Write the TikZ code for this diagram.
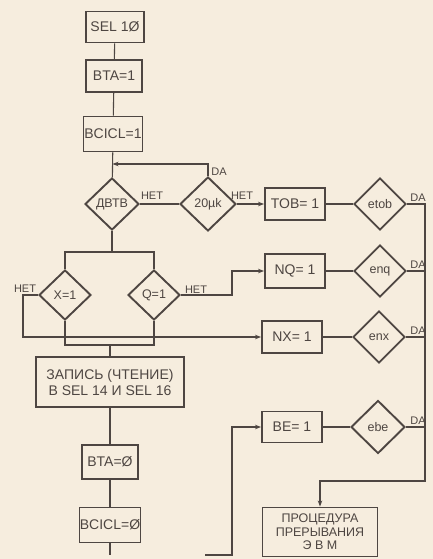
\documentclass[tikz,border=0pt]{standalone}
\usepackage{fontspec}
\setmainfont{Liberation Sans}
\usetikzlibrary{shapes.geometric,arrows.meta}
\definecolor{paper}{RGB}{246,237,222}
\definecolor{ink}{RGB}{78,70,66}
\begin{document}
\begin{tikzpicture}[x=1pt,y=-1pt,
  box/.style={draw=ink, line width=1.9pt, inner sep=0pt, text=ink, align=center,
    font=\fontsize{14}{16}\selectfont},
  dia/.style={diamond, draw=ink, line width=1.9pt, inner sep=0pt, text=ink,
    font=\fontsize{12.5}{14}\selectfont},
  conn/.style={draw=ink, line width=1.1pt},
  arr/.style={conn, -{Stealth[length=6pt,width=4.5pt]}},
  lbl/.style={text=ink, inner sep=0pt, font=\fontsize{11}{12}\selectfont}]
\fill[paper] (0,0) rectangle (433,559);
\useasboundingbox (0,0) rectangle (433,559);

% main column
\node[box, minimum width=58pt, minimum height=31pt] (sel) at (115,27) {SEL 1Ø};
\node[box, minimum width=56pt, minimum height=32pt] (bta1) at (114,76) {BTA=1};
\node[box, minimum width=59pt, minimum height=35pt] (bc1) at (113,134) {BCICL=1};
\node[dia, minimum width=54pt, minimum height=52pt] (dvtv) at (112,204) {ДВТВ};
\node[dia, minimum width=56pt, minimum height=54pt] (mk) at (208,204) {20µk};
\node[dia, minimum width=52pt, minimum height=50pt] (x1) at (65,295) {X=1};
\node[dia, minimum width=52pt, minimum height=50pt] (q1) at (154,295) {Q=1};
\node[box, minimum width=148pt, minimum height=50pt] (zap) at (110,382) {ЗАПИСЬ (ЧТЕНИЕ)\\В SEL 14 И SEL 16};
\node[box, minimum width=56pt, minimum height=34pt] (bta0) at (110,462) {BTA=Ø};
\node[box, minimum width=61pt, minimum height=35pt] (bc0) at (110,525) {BCICL=Ø};

% right columns
\node[box, minimum width=60pt, minimum height=32pt] (tob) at (295,204) {TOB= 1};
\node[dia, minimum width=52pt, minimum height=52pt] (etob) at (380,204) {etob};
\node[box, minimum width=60pt, minimum height=34pt] (nq) at (295,271) {NQ= 1};
\node[dia, minimum width=52pt, minimum height=52pt] (enq) at (380,271) {enq};
\node[box, minimum width=60pt, minimum height=32pt] (nx) at (292,337) {NX= 1};
\node[dia, minimum width=52pt, minimum height=52pt] (enx) at (379,337) {enx};
\node[box, minimum width=60pt, minimum height=31pt] (be) at (292,427) {BE= 1};
\node[dia, minimum width=54pt, minimum height=53pt] (ebe) at (378,427) {ebe};
\node[box, minimum width=115pt, minimum height=49pt,
  font=\fontsize{12.5}{13.5}\selectfont] (proc) at (320,532) {ПРОЦЕДУРА\\ПРЕРЫВАНИЯ\\Э В М};

% coordinates
\coordinate (jn) at (112.5,164);
\coordinate (b1) at (112,252);
\coordinate (m1) at (110,345);
\coordinate (xl) at (23,337);
\coordinate (qr) at (232,271);
\coordinate (r1) at (425,204);
\coordinate (rb) at (425,481);
\coordinate (rl) at (320,481);
\coordinate (out) at (110,555);
\coordinate (bein) at (205,555);
\coordinate (bec) at (232,555);

% main chain
\draw[conn] (sel) -- (bta1);
\draw[conn] (bta1) -- (bc1);
\draw[conn] (bc1) -- (dvtv);
\draw[arr] (mk.north) |- (jn);
\draw[conn] (dvtv) -- (mk);
\draw[arr] (mk) -- (tob);
\draw[conn] (dvtv.south) -- (b1);
\draw[conn] (x1.north) -- (x1.north |- b1) -- (q1.north |- b1) -- (q1.north);
\draw[arr] (x1.west) -| (xl) -- (nx.west);
\draw[arr] (q1.east) -| (qr) -- (nq.west);
\draw[conn] (x1.south) -- (x1.south |- m1) -- (q1.south |- m1) -- (q1.south);
\draw[conn] (m1) -- (zap.north);
\draw[conn] (zap) -- (bta0);
\draw[conn] (bta0) -- (bc0);
\draw[conn] (bc0) -- (out);
\draw[arr] (bein) -- (bec) |- (be.west);

% right side
\draw[conn] (tob) -- (etob);
\draw[conn] (nq) -- (enq);
\draw[conn] (nx) -- (enx);
\draw[conn] (be) -- (ebe);
\draw[arr] (etob.east) -- (r1) -- (rb) -- (rl) -- (proc.north);
\draw[conn] (enq.east) -- (enq.east -| r1);
\draw[conn] (enx.east) -- (enx.east -| r1);
\draw[conn] (ebe.east) -- (ebe.east -| r1);

% labels
\node[lbl] (l1) at (219,172) {DA};
\node[lbl] (l2) at (152,196) {НЕТ};
\node[lbl] (l3) at (242,196) {НЕТ};
\node[lbl] (l4) at (25,289) {НЕТ};
\node[lbl] (l5) at (196,290) {НЕТ};
\node[lbl] (l6) at (418,198) {DA};
\node[lbl] (l7) at (418,265) {DA};
\node[lbl] (l8) at (418,331) {DA};
\node[lbl] (l9) at (418,421) {DA};
\end{tikzpicture}
\end{document}
